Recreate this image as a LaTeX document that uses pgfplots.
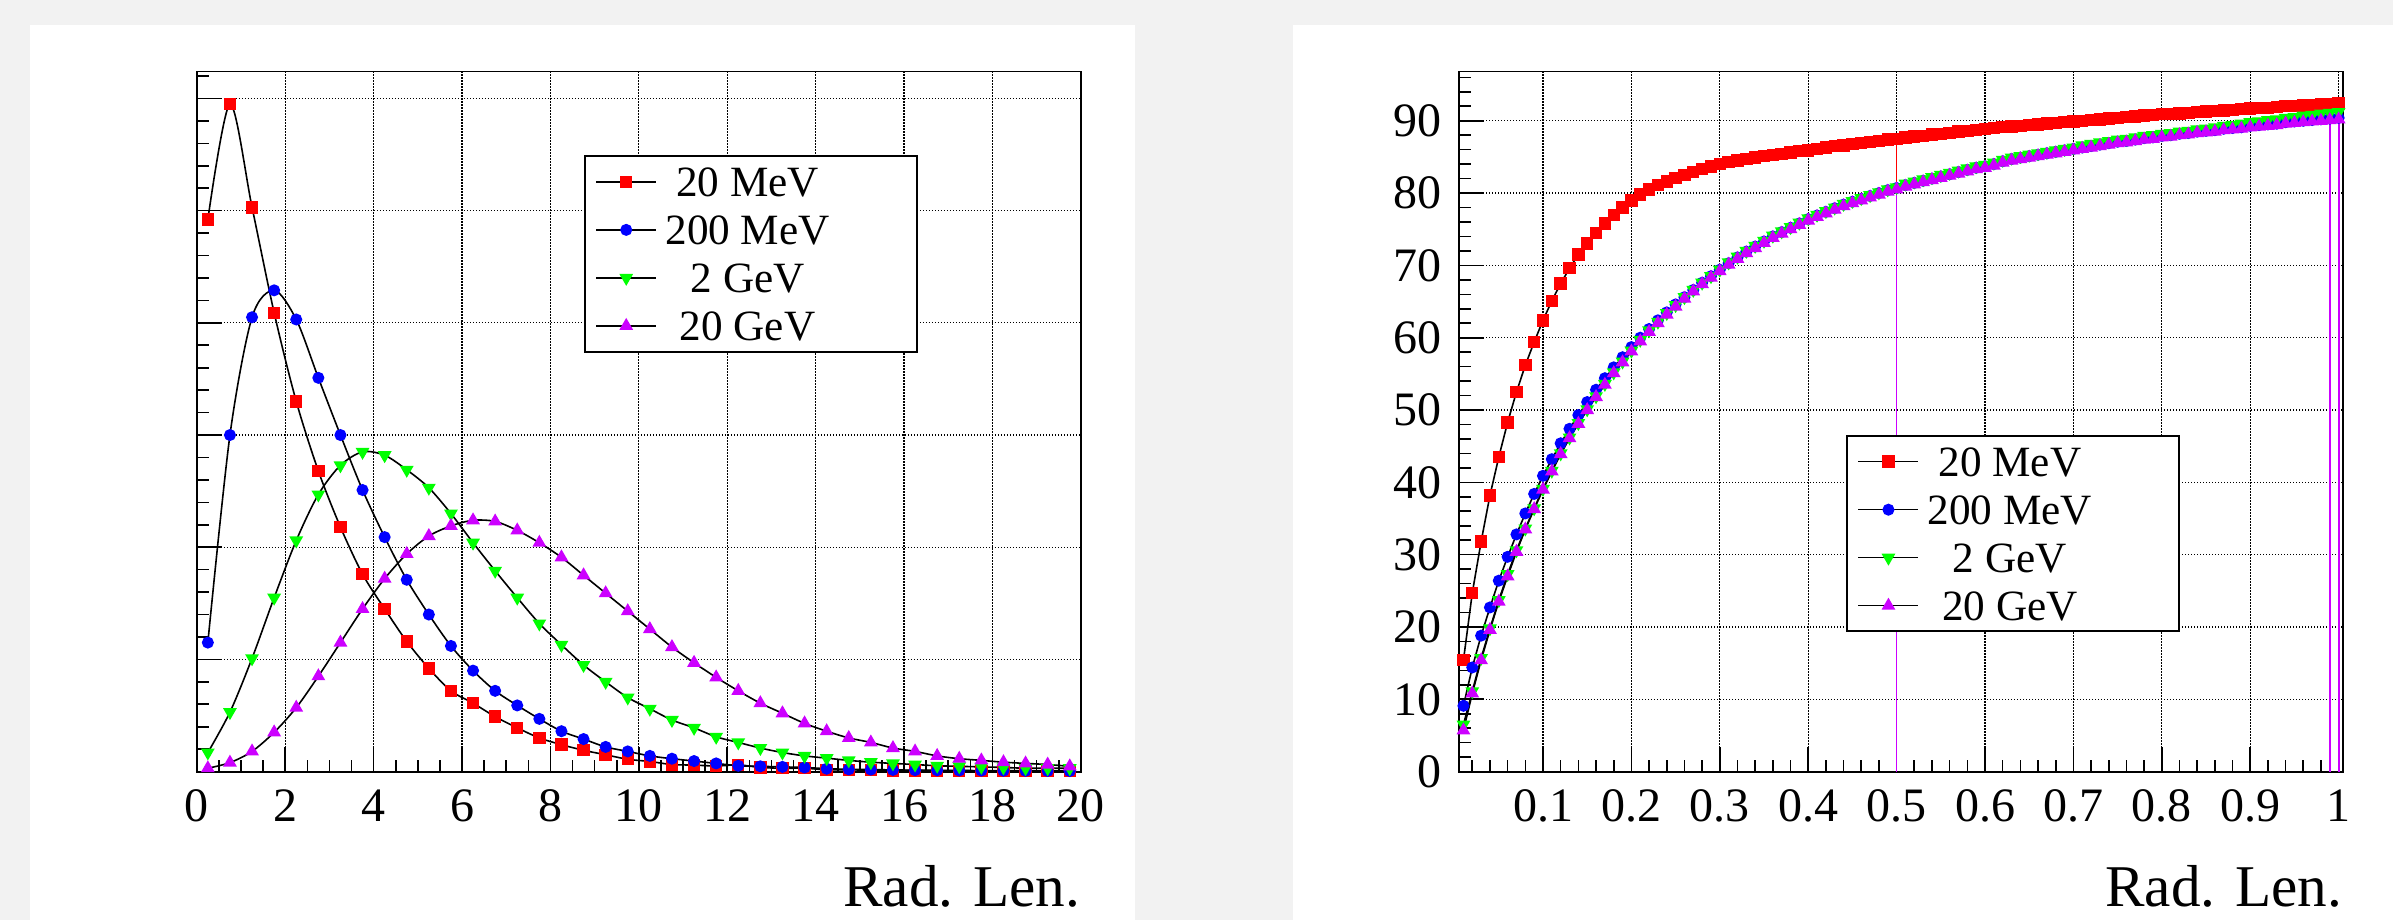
\documentclass[border=0pt]{standalone}
\usepackage{fontspec}
\setmainfont{Liberation Serif}
\usepackage{pgfplots}
\pgfplotsset{compat=1.18}
\usepackage{pgfplotstable}
\definecolor{bg}{RGB}{242,242,242}
\definecolor{rootred}{RGB}{255,0,0}
\definecolor{rootblue}{RGB}{0,0,255}
\definecolor{rootgreen}{RGB}{0,255,0}
\definecolor{rootviolet}{RGB}{204,0,255}

\pgfplotstableread{
x r b g m
0.25 4.92 1.15 0.17 0.03
0.75 5.95 3.00 0.53 0.08
1.25 5.03 4.05 1.01 0.18
1.75 4.09 4.29 1.55 0.35
2.25 3.30 4.03 2.06 0.57
2.75 2.68 3.51 2.47 0.85
3.25 2.18 3.00 2.73 1.15
3.75 1.76 2.51 2.85 1.45
4.25 1.45 2.09 2.82 1.72
4.75 1.16 1.71 2.69 1.94
5.25 0.92 1.40 2.53 2.10
5.75 0.72 1.12 2.30 2.19
6.25 0.61 0.90 2.04 2.24
6.75 0.49 0.72 1.79 2.23
7.25 0.39 0.59 1.55 2.15
7.75 0.30 0.47 1.32 2.04
8.25 0.24 0.36 1.13 1.91
8.75 0.19 0.29 0.95 1.75
9.25 0.15 0.22 0.80 1.59
9.75 0.11 0.18 0.66 1.43
10.25 0.09 0.14 0.56 1.27
10.75 0.063 0.115 0.46 1.11
11.25 0.058 0.094 0.39 0.97
11.75 0.05 0.073 0.31 0.84
12.25 0.06 0.052 0.26 0.72
12.75 0.037 0.047 0.21 0.61
13.25 0.03 0.042 0.17 0.52
13.75 0.03 0.037 0.14 0.43
14.25 0.016 0.026 0.12 0.36
14.75 0.016 0.02 0.10 0.30
15.25 0.012 0.018 0.084 0.26
15.75 0.01 0.015 0.073 0.21
16.25 0.01 0.013 0.063 0.18
16.75 0.008 0.012 0.052 0.14
17.25 0.008 0.01 0.047 0.115
17.75 0.006 0.009 0.042 0.10
18.25 0.005 0.008 0.037 0.084
18.75 0.005 0.007 0.03 0.073
19.25 0.004 0.006 0.03 0.063
19.75 0.004 0.005 0.03 0.047
}\leftdata

\pgfplotstableread{
x r b g m
0.01 15.4 9.1 6.5 5.7
0.02 24.7 14.4 11.1 10.8
0.03 31.8 18.8 15.7 15.4
0.04 38.2 22.7 19.8 19.6
0.05 43.5 26.4 23.7 23.5
0.06 48.3 29.7 27.3 27.0
0.07 52.5 32.8 30.6 30.4
0.08 56.2 35.7 33.6 33.5
0.09 59.4 38.4 36.4 36.3
0.10 62.4 40.9 39.1 39.0
0.11 65.1 43.2 41.6 41.5
0.12 67.5 45.4 44.0 43.9
0.13 69.6 47.4 46.2 46.1
0.14 71.5 49.3 48.2 48.1
0.15 73.0 51.1 50.1 50.0
0.16 74.5 52.8 51.9 51.8
0.17 75.8 54.4 53.6 53.5
0.18 77.0 55.9 55.2 55.1
0.19 78.0 57.3 56.7 56.6
0.20 79.0 58.7 58.2 58.1
0.21 79.8 60.0 59.7 59.5
0.22 80.5 61.2 61.0 60.8
0.23 81.1 62.4 62.2 62.0
0.24 81.6 63.5 63.4 63.2
0.25 82.1 64.6 64.5 64.3
0.26 82.5 65.6 65.6 65.4
0.27 82.9 66.6 66.6 66.4
0.28 83.3 67.6 67.6 67.4
0.29 83.7 68.5 68.5 68.3
0.30 84.0 69.4 69.4 69.2
0.31 84.3 70.3 70.4 70.1
0.32 84.5 71.1 71.2 70.9
0.33 84.7 71.9 72.0 71.7
0.34 84.9 72.6 72.7 72.4
0.35 85.1 73.3 73.4 73.1
0.36 85.3 74.0 74.1 73.8
0.37 85.4 74.6 74.7 74.4
0.38 85.6 75.2 75.3 75.0
0.39 85.8 75.8 75.9 75.6
0.40 85.9 76.4 76.5 76.2
0.41 86.1 76.9 77.0 76.7
0.42 86.3 77.4 77.5 77.2
0.43 86.5 77.9 78.0 77.7
0.44 86.6 78.4 78.5 78.2
0.45 86.8 78.8 78.9 78.6
0.46 86.9 79.2 79.3 79.0
0.47 87.1 79.6 79.7 79.4
0.48 87.2 80.0 80.1 79.8
0.49 87.4 80.4 80.5 80.2
0.50 87.5 80.7 80.8 80.5
0.51 87.7 81.1 81.3 80.9
0.52 87.8 81.4 81.6 81.2
0.53 87.9 81.7 81.9 81.5
0.54 88.1 82.0 82.2 81.8
0.55 88.2 82.3 82.5 82.1
0.56 88.3 82.6 82.8 82.4
0.57 88.5 82.9 83.1 82.7
0.58 88.6 83.2 83.4 83.0
0.59 88.7 83.5 83.7 83.3
0.60 88.9 83.7 83.9 83.5
0.61 89.0 84.0 84.2 83.8
0.62 89.1 84.4 84.6 84.2
0.63 89.2 84.7 84.9 84.5
0.64 89.3 84.9 85.1 84.7
0.65 89.4 85.1 85.3 84.9
0.66 89.5 85.3 85.5 85.1
0.67 89.6 85.5 85.7 85.3
0.68 89.7 85.7 85.9 85.5
0.69 89.8 85.9 86.1 85.7
0.70 89.9 86.1 86.3 85.9
0.71 90.0 86.3 86.6 86.1
0.72 90.1 86.5 86.8 86.3
0.73 90.2 86.7 87.0 86.5
0.74 90.3 86.9 87.2 86.7
0.75 90.4 87.1 87.4 86.9
0.76 90.5 87.2 87.5 87.0
0.77 90.6 87.4 87.7 87.2
0.78 90.7 87.6 87.9 87.4
0.79 90.8 87.7 88.0 87.5
0.80 90.9 87.9 88.2 87.7
0.81 90.95 88.0 88.3 87.8
0.82 91.0 88.2 88.5 88.0
0.83 91.1 88.3 88.6 88.1
0.84 91.2 88.5 88.8 88.3
0.85 91.3 88.6 88.9 88.4
0.86 91.35 88.7 89.1 88.5
0.87 91.4 88.9 89.3 88.7
0.88 91.5 89.0 89.4 88.8
0.89 91.6 89.1 89.6 88.9
0.90 91.7 89.3 89.8 89.1
0.91 91.75 89.4 89.9 89.2
0.92 91.8 89.5 90.1 89.3
0.93 91.9 89.6 90.2 89.4
0.94 92.0 89.8 90.4 89.6
0.95 92.05 89.9 90.5 89.7
0.96 92.1 90.0 90.7 89.8
0.97 92.2 90.1 90.8 89.9
0.98 92.25 90.2 91.0 90.0
0.99 92.3 90.3 91.1 90.1
1.00 92.4 90.4 91.2 90.2
}\rightdata

\pgfplotsset{
  rootaxis/.style={
    scale only axis, width=221pt, height=175pt, anchor=south west,
    tick pos=left, tick align=inside,
    major tick length=6.2pt, minor tick length=3pt,
    tick style={black, line width=0.4pt},
    axis line style={black, line width=0.45pt},
    grid=major,
    major grid style={black, line width=0.3pt, dash pattern=on 0.3pt off 0.45pt},
    tick label style={font=\fontsize{12}{12}\selectfont},
    xticklabel style={yshift=-1pt},
    yticklabel style={xshift=-0.8pt},
    xlabel={Rad. Len.},
    xlabel style={at={(rel axis cs:1,0)}, anchor=base east, yshift=-33.7pt, inner sep=0pt, font=\fontsize{14.8}{15}\selectfont},
    legend image code/.code={\draw[mark repeat=2,mark phase=2,#1] plot coordinates {(0pt,0pt) (7.5pt,0pt) (15pt,0pt)};},
    legend style={anchor=north west, draw=black, line width=0.5pt, fill=white, inner xsep=2.65pt, inner ysep=0.45pt, column sep=0pt, font=\fontsize{10.8}{11}\selectfont, nodes={inner sep=0pt, text height=9.6pt, text depth=2.4pt}},
  },
  sred/.style={black, line width=0.4pt, mark=square*, mark size=1.35pt, mark options={solid, fill=rootred, draw=rootred}},
  sblue/.style={black, line width=0.4pt, mark=*, mark size=1.3pt, mark options={solid, fill=rootblue, draw=rootblue}},
  sgreen/.style={black, line width=0.4pt, mark=triangle*, mark size=1.6pt, mark options={solid, fill=rootgreen, draw=rootgreen, rotate=180}},
  sviolet/.style={black, line width=0.4pt, mark=triangle*, mark size=1.6pt, mark options={solid, fill=rootviolet, draw=rootviolet}},
}

\begin{document}
\begin{tikzpicture}
\fill[bg] (0,0) rectangle (598.25pt,230pt);
\fill[white] (7.5pt,0) rectangle (283.75pt,223.75pt);
\fill[white] (323.25pt,0) rectangle (598.25pt,223.75pt);

\begin{axis}[rootaxis, at={(49.2pt,37.1pt)},
  xmin=0, xmax=20, ymin=0, ymax=6.24,
  xtick={0,2,4,6,8,10,12,14,16,18,20},
  xticklabels={0,2,4,6,8,10,12,14,16,18,20},
  minor xtick={0,0.5,...,20},
  ytick={0,1,2,3,4,5,6}, yticklabels={},
  minor ytick={0,0.2,...,6.2},
  legend style={at={(rel axis cs:0.4378,0.8807)}}]
\addplot[sred, smooth] table[x=x,y=r]{\leftdata};
\addlegendentry{\makebox[45.3pt][c]{20 MeV}\hspace*{17pt}}
\addplot[sblue, smooth] table[x=x,y=b]{\leftdata};
\addlegendentry{\makebox[45.3pt][c]{200 MeV}\hspace*{17pt}}
\addplot[sgreen, smooth] table[x=x,y=g]{\leftdata};
\addlegendentry{\makebox[45.3pt][c]{2 GeV}\hspace*{17pt}}
\addplot[sviolet, smooth] table[x=x,y=m]{\leftdata};
\addlegendentry{\makebox[45.3pt][c]{20 GeV}\hspace*{17pt}}
\end{axis}

\begin{axis}[rootaxis, at={(364.75pt,37.1pt)},
  xmin=0.005, xmax=1.005, ymin=0, ymax=96.8,
  xtick={0.1,0.2,0.3,0.4,0.5,0.6,0.7,0.8,0.9,1},
  xticklabels={0.1,0.2,0.3,0.4,0.5,0.6,0.7,0.8,0.9,1},
  minor xtick={0.02,0.04,...,1.0},
  ytick={0,10,20,30,40,50,60,70,80,90},
  yticklabels={0,10,20,30,40,50,60,70,80,90},
  minor ytick={0,2,...,96},
  legend style={at={(rel axis cs:0.4378,0.481)}}]
\addplot[rootred, line width=0.4pt, forget plot] coordinates {(0.5,0) (0.5,87.5)};
\addplot[rootviolet, line width=0.4pt, forget plot] coordinates {(0.5,0) (0.5,80.5)};
\addplot[rootviolet, line width=0.45pt, forget plot] coordinates {(0.99,0) (0.99,90.1)};
\addplot[rootviolet, line width=0.45pt, forget plot] coordinates {(1.0,0) (1.0,90.2)};
\addplot[sred] table[x=x,y=r]{\rightdata};
\addlegendentry{\makebox[45.3pt][c]{20 MeV}\hspace*{17pt}}
\addplot[sblue] table[x=x,y=b]{\rightdata};
\addlegendentry{\makebox[45.3pt][c]{200 MeV}\hspace*{17pt}}
\addplot[sgreen] table[x=x,y=g]{\rightdata};
\addlegendentry{\makebox[45.3pt][c]{2 GeV}\hspace*{17pt}}
\addplot[sviolet] table[x=x,y=m]{\rightdata};
\addlegendentry{\makebox[45.3pt][c]{20 GeV}\hspace*{17pt}}
\end{axis}

\pgfresetboundingbox
\useasboundingbox (0,0) rectangle (598.25pt,230pt);
\end{tikzpicture}
\end{document}
